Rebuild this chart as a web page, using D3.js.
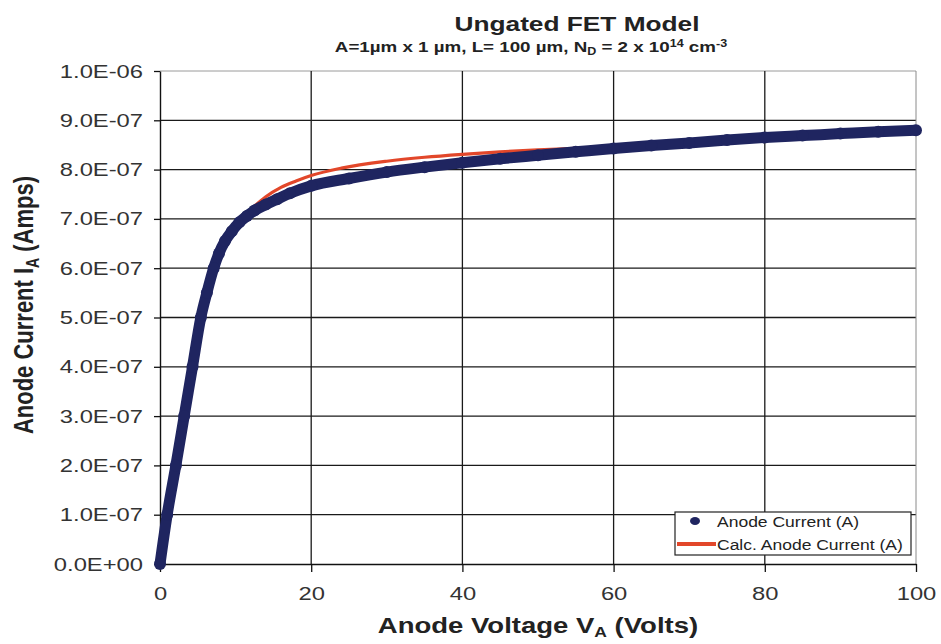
<!DOCTYPE html>
<html>
<head>
<meta charset="utf-8">
<script src="https://cdn.jsdelivr.net/npm/d3@7"></script>
<style>
  body { margin: 0; background: #fff; }
  svg text { font-family: "Liberation Sans", Arial, sans-serif; }
</style>
</head>
<body>
<div id="chart"></div>
<script>
// Measured anode current (dots) - volts / amps
const measV = [0, 0.95, 2.1, 3.2, 4.3, 5.4, 6.2, 7.1, 7.8, 8.6, 9.5, 10.5, 11.5, 12.5, 14, 15.5, 17.2, 20, 25, 30, 35, 40, 45, 50, 55, 60, 65, 70, 75, 80, 85, 90, 95, 100];
const measI = [0, 1.0e-7, 2.0e-7, 3.0e-7, 4.0e-7, 5.0e-7, 5.5e-7, 6.0e-7, 6.3e-7, 6.55e-7, 6.75e-7, 6.93e-7, 7.06e-7, 7.17e-7, 7.29e-7, 7.4e-7, 7.52e-7, 7.67e-7, 7.82e-7, 7.95e-7, 8.05e-7, 8.14e-7, 8.22e-7, 8.29e-7, 8.36e-7, 8.43e-7, 8.49e-7, 8.54e-7, 8.6e-7, 8.65e-7, 8.69e-7, 8.73e-7, 8.77e-7, 8.8e-7];

// Calculated anode current (line)
const calcV = [0, 0.95, 2.1, 3.2, 4.3, 5.4, 6.2, 7.1, 7.8, 8.6, 9.5, 10.5, 11.5, 12.5, 14, 16, 18, 20, 24, 30, 35, 40, 45, 50, 55, 60, 70, 80, 90, 100];
const calcI = [0, 1.0e-7, 2.0e-7, 3.0e-7, 4.0e-7, 5.0e-7, 5.5e-7, 6.0e-7, 6.3e-7, 6.55e-7, 6.76e-7, 6.95e-7, 7.12e-7, 7.26e-7, 7.45e-7, 7.64e-7, 7.77e-7, 7.88e-7, 8.03e-7, 8.17e-7, 8.25e-7, 8.31e-7, 8.36e-7, 8.4e-7, 8.43e-7, 8.46e-7, 8.55e-7, 8.64e-7, 8.72e-7, 8.8e-7];

const xTicks = [0, 20, 40, 60, 80, 100];
const yTicks = [0, 1e-7, 2e-7, 3e-7, 4e-7, 5e-7, 6e-7, 7e-7, 8e-7, 9e-7, 1e-6];
const yTickLabels = ["0.0E+00", "1.0E-07", "2.0E-07", "3.0E-07", "4.0E-07", "5.0E-07", "6.0E-07", "7.0E-07", "8.0E-07", "9.0E-07", "1.0E-06"];

const measured = measV.map((v, i) => ({ v: v, a: measI[i] }));
const calculated = calcV.map((v, i) => ({ v: v, a: calcI[i] }));

const width = 941, height = 644;
const K = 1.25; // the original is stretched sideways

const svg = d3.select("#chart").append("svg")
    .attr("width", width)
    .attr("height", height);

const x = d3.scaleLinear().domain([0, 100]).range([160, 916]);
const y = d3.scaleLinear().domain([0, 1e-6]).range([564, 71]);

function stretch(sel) {
    sel.each(function() {
        const w = this.getComputedTextLength();
        d3.select(this).attr("textLength", w * K).attr("lengthAdjust", "spacingAndGlyphs");
    });
}

// Grid
svg.append("g")
    .selectAll("line")
    .data(yTicks.slice(1))
    .enter().append("line")
    .attr("x1", x(0)).attr("x2", x(100))
    .attr("y1", d => y(d)).attr("y2", d => y(d))
    .attr("stroke", d => d === 1e-6 ? "#9a9a9a" : "#1a1a1a")
    .attr("stroke-width", d => d === 1e-6 ? 1 : 1.3);

svg.append("g")
    .selectAll("line")
    .data(xTicks.slice(1))
    .enter().append("line")
    .attr("x1", d => x(d)).attr("x2", d => x(d))
    .attr("y1", y(0)).attr("y2", y(1e-6))
    .attr("stroke", d => d === 100 ? "#8a8a8a" : "#1a1a1a")
    .attr("stroke-width", d => d === 100 ? 1 : 1.3);

// Axes
const yAxis = svg.append("g")
    .attr("transform", `translate(${x(0)},0)`)
    .call(d3.axisLeft(y).tickValues(yTicks).tickFormat((d, i) => yTickLabels[i])
        .tickSizeInner(6).tickSizeOuter(0).tickPadding(11));
const xAxis = svg.append("g")
    .attr("transform", `translate(0,${y(0)})`)
    .call(d3.axisBottom(x).tickValues(xTicks).tickFormat(d3.format("d"))
        .tickSizeInner(8).tickSizeOuter(0).tickPadding(15));

[yAxis, xAxis].forEach(g => {
    g.select(".domain").attr("stroke", "#111").attr("stroke-width", 1.4);
    g.selectAll(".tick line").attr("stroke", "#111").attr("stroke-width", 1.3);
    g.selectAll("text")
        .style("font-family", "'Liberation Sans', Arial, sans-serif")
        .style("font-size", "19px")
        .attr("fill", "#333");
});
stretch(yAxis.selectAll("text"));
stretch(xAxis.selectAll("text"));

// Calculated line (drawn below the markers)
const line = d3.line().x(d => x(d.v)).y(d => y(d.a)).curve(d3.curveMonotoneX);

svg.append("path")
    .datum(calculated)
    .attr("fill", "none")
    .attr("stroke", "#e2472a")
    .attr("stroke-width", 3.2)
    .attr("d", line);

// Measured markers: dense dots forming a thick band
const navy = "#1f2560";
svg.append("path")
    .datum(measured)
    .attr("fill", "none")
    .attr("stroke", navy)
    .attr("stroke-width", 11)
    .attr("stroke-linejoin", "round")
    .attr("d", line);

svg.append("g")
    .selectAll("circle")
    .data(measured)
    .enter().append("circle")
    .attr("cx", d => x(d.v))
    .attr("cy", d => y(d.a))
    .attr("r", 6)
    .attr("fill", navy);

// Legend
const lg = svg.append("g");
lg.append("rect")
    .attr("x", 675).attr("y", 512)
    .attr("width", 236).attr("height", 43)
    .attr("fill", "#fff").attr("stroke", "#222").attr("stroke-width", 1.2);
lg.append("ellipse")
    .attr("cx", 695).attr("cy", 521).attr("rx", 5).attr("ry", 4)
    .attr("fill", navy);
lg.append("line")
    .attr("x1", 677).attr("x2", 716).attr("y1", 544).attr("y2", 544)
    .attr("stroke", "#e2472a").attr("stroke-width", 4);
const lt = lg.selectAll("text.leg")
    .data(["Anode Current (A)", "Calc. Anode Current (A)"])
    .enter().append("text")
    .attr("class", "leg")
    .attr("x", 717)
    .attr("y", (d, i) => 526.5 + i * 23)
    .style("font-size", "14px")
    .attr("fill", "#222")
    .text(d => d);
stretch(lt);

// Titles
const title = svg.append("text")
    .attr("x", 577).attr("y", 31)
    .attr("text-anchor", "middle")
    .style("font-size", "21px")
    .style("font-weight", "bold")
    .attr("fill", "#222")
    .text("Ungated FET Model");
stretch(title);

const sub = svg.append("text")
    .attr("x", 531).attr("y", 52)
    .attr("text-anchor", "middle")
    .style("font-size", "15px")
    .style("font-weight", "bold")
    .attr("fill", "#222");
sub.append("tspan").text("A=1\u00b5m x 1 \u00b5m, L= 100 \u00b5m, N");
sub.append("tspan").attr("baseline-shift", "-3").style("font-size", "10px").text("D");
sub.append("tspan").text(" = 2 x 10");
sub.append("tspan").attr("baseline-shift", "super").style("font-size", "10px").text("14");
sub.append("tspan").text(" cm");
sub.append("tspan").attr("baseline-shift", "super").style("font-size", "10px").text("-3");
stretch(sub);

const xt = svg.append("text")
    .attr("x", 538).attr("y", 633)
    .attr("text-anchor", "middle")
    .style("font-size", "22px")
    .style("font-weight", "bold")
    .attr("fill", "#222");
xt.append("tspan").text("Anode Voltage V");
xt.append("tspan").attr("baseline-shift", "-4").style("font-size", "14px").text("A");
xt.append("tspan").text(" (Volts)");
stretch(xt);

const yt = svg.append("text")
    .attr("transform", `translate(33,305) scale(${K},1) rotate(-90)`)
    .attr("text-anchor", "middle")
    .style("font-size", "22px")
    .style("font-weight", "bold")
    .attr("fill", "#222");
yt.append("tspan").text("Anode Current I");
yt.append("tspan").attr("baseline-shift", "-4").style("font-size", "14px").text("A");
yt.append("tspan").text(" (Amps)");
</script>
</body>
</html>
